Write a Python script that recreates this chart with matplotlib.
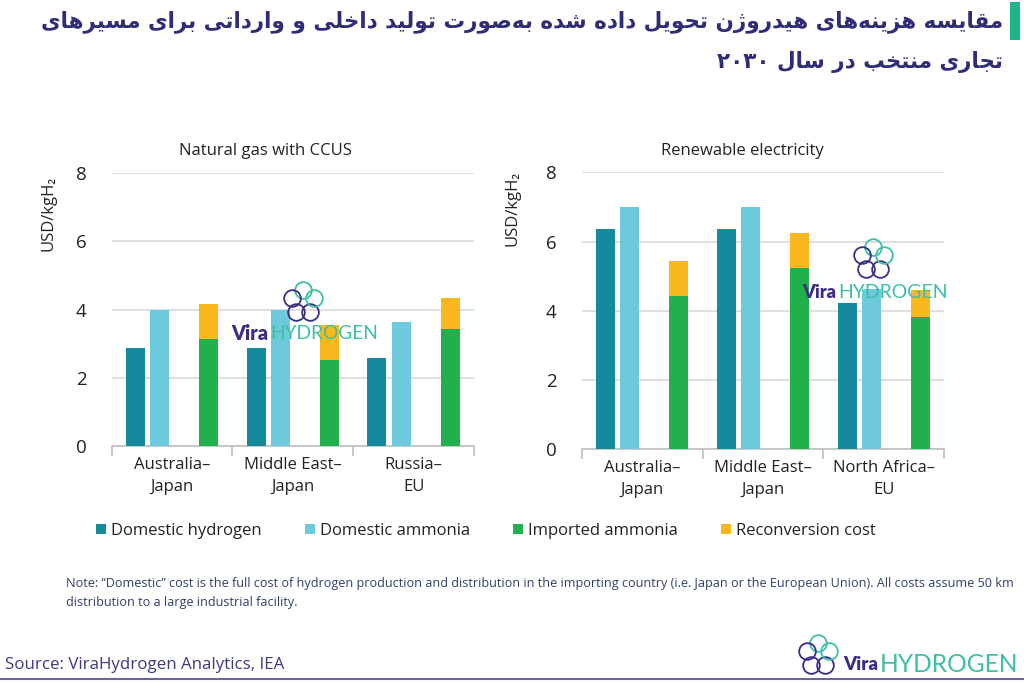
import matplotlib
matplotlib.use("Agg")
import matplotlib.pyplot as plt
from matplotlib.patches import Patch, Rectangle
from matplotlib.lines import Line2D
import numpy as np

# ------------------------------------------------------------------
# data (USD/kgH2)
# ------------------------------------------------------------------
routes_gas = ["Australia–\nJapan", "Middle East–\nJapan", "Russia–\nEU"]
routes_ren = ["Australia–\nJapan", "Middle East–\nJapan", "North Africa–\nEU"]

gas_dom_h2 = [2.87, 2.87, 2.59]
gas_dom_nh3 = [4.00, 4.00, 3.65]
gas_imp_nh3 = [3.14, 2.52, 3.42]
gas_reconv = [1.04, 1.03, 0.93]

ren_dom_h2 = [6.36, 6.36, 4.23]
ren_dom_nh3 = [7.00, 7.00, 4.63]
ren_imp_nh3 = [4.43, 5.23, 3.81]
ren_reconv = [1.02, 1.01, 0.80]

series_names = ["Domestic hydrogen", "Domestic ammonia", "Imported ammonia", "Reconversion cost"]
panel_titles = ["Natural gas with CCUS", "Renewable electricity"]

title_lines = [
    "مقایسه هزینه\u200cهای هیدروژن تحویل داده شده به\u200cصورت تولید داخلی و وارداتی برای مسیرهای",
    "تجاری منتخب در سال ۲۰۳۰",
]
note_text = ("Note: “Domestic” cost is the full cost of hydrogen production and distribution in the "
             "importing country (i.e. Japan or the European Union). All costs assume 50 km\n"
             "distribution to a large industrial facility.")
source_text = "Source: ViraHydrogen Analytics, IEA"

# colours
C_DH = "#148a9c"
C_DA = "#6ccadc"
C_IA = "#21b04b"
C_RC = "#fbb81e"
NAVY = "#2f2c78"
PURPLE = "#3a2d86"
TEAL = "#3cbfa4"

# ------------------------------------------------------------------
# tiny Persian shaper (matplotlib has no shaping / bidi)
# ------------------------------------------------------------------
FORMS = {
    "\u0627": ("\uFE8D", "\uFE8E", None, None),
    "\u0622": ("\uFE81", "\uFE82", None, None),
    "\u0628": ("\uFE8F", "\uFE90", "\uFE91", "\uFE92"),
    "\u067E": ("\uFB56", "\uFB57", "\uFB58", "\uFB59"),
    "\u062A": ("\uFE95", "\uFE96", "\uFE97", "\uFE98"),
    "\u062B": ("\uFE99", "\uFE9A", "\uFE9B", "\uFE9C"),
    "\u062C": ("\uFE9D", "\uFE9E", "\uFE9F", "\uFEA0"),
    "\u0686": ("\uFB7A", "\uFB7B", "\uFB7C", "\uFB7D"),
    "\u062D": ("\uFEA1", "\uFEA2", "\uFEA3", "\uFEA4"),
    "\u062E": ("\uFEA5", "\uFEA6", "\uFEA7", "\uFEA8"),
    "\u062F": ("\uFEA9", "\uFEAA", None, None),
    "\u0630": ("\uFEAB", "\uFEAC", None, None),
    "\u0631": ("\uFEAD", "\uFEAE", None, None),
    "\u0632": ("\uFEAF", "\uFEB0", None, None),
    "\u0698": ("\uFB8A", "\uFB8B", None, None),
    "\u0633": ("\uFEB1", "\uFEB2", "\uFEB3", "\uFEB4"),
    "\u0634": ("\uFEB5", "\uFEB6", "\uFEB7", "\uFEB8"),
    "\u0635": ("\uFEB9", "\uFEBA", "\uFEBB", "\uFEBC"),
    "\u0636": ("\uFEBD", "\uFEBE", "\uFEBF", "\uFEC0"),
    "\u0637": ("\uFEC1", "\uFEC2", "\uFEC3", "\uFEC4"),
    "\u0638": ("\uFEC5", "\uFEC6", "\uFEC7", "\uFEC8"),
    "\u0639": ("\uFEC9", "\uFECA", "\uFECB", "\uFECC"),
    "\u063A": ("\uFECD", "\uFECE", "\uFECF", "\uFED0"),
    "\u0641": ("\uFED1", "\uFED2", "\uFED3", "\uFED4"),
    "\u0642": ("\uFED5", "\uFED6", "\uFED7", "\uFED8"),
    "\u06A9": ("\uFB8E", "\uFB8F", "\uFB90", "\uFB91"),
    "\u06AF": ("\uFB92", "\uFB93", "\uFB94", "\uFB95"),
    "\u0644": ("\uFEDD", "\uFEDE", "\uFEDF", "\uFEE0"),
    "\u0645": ("\uFEE1", "\uFEE2", "\uFEE3", "\uFEE4"),
    "\u0646": ("\uFEE5", "\uFEE6", "\uFEE7", "\uFEE8"),
    "\u0648": ("\uFEED", "\uFEEE", None, None),
    "\u0647": ("\uFEE9", "\uFEEA", "\uFEEB", "\uFEEC"),
    "\u06CC": ("\uFBFC", "\uFBFD", "\uFBFE", "\uFBFF"),
}


def shape_word(w):
    out = []
    for i, c in enumerate(w):
        if c not in FORMS:
            if c != "\u200c":
                out.append(c)
            continue
        prev = w[i - 1] if i > 0 else None
        nxt = w[i + 1] if i + 1 < len(w) else None
        iso, fin, ini, med = FORMS[c]
        jp = prev in FORMS and FORMS[prev][2] is not None
        jn = nxt in FORMS and ini is not None
        if jp and jn:
            out.append(med)
        elif jp:
            out.append(fin)
        elif jn:
            out.append(ini)
        else:
            out.append(iso)
    return out


def rtl(line):
    words = []
    for w in line.split(" "):
        if all("\u06F0" <= c <= "\u06F9" for c in w):
            words.append(w)
        else:
            words.append("".join(reversed(shape_word(w))))
    return " ".join(reversed(words))


# ------------------------------------------------------------------
# figure
# ------------------------------------------------------------------
plt.rcParams["font.family"] = ["Open Sans", "DejaVu Sans"]
W, H = 1024, 683
fig = plt.figure(figsize=(W / 100, H / 100), dpi=100)


def fx(x):
    return x / W


def fy(y):
    return 1 - y / H


def fit_width(t, target):
    # shrink / grow a text so it spans `target` pixels
    fig.canvas.draw()
    w = t.get_window_extent().width
    t.set_fontsize(t.get_fontsize() * target / w)


panels = [
    (routes_gas, gas_dom_h2, gas_dom_nh3, gas_imp_nh3, gas_reconv, [111.7, 173.3, 474.0, 446.0], 265, 48, 213),
    (routes_ren, ren_dom_h2, ren_dom_nh3, ren_imp_nh3, ren_reconv, [581.7, 172.3, 944.3, 449.3], 742, 513, 208),
]

pitch = 0.2025
bw = 0.157
for k, (routes, dh, da, ia, rc, box, tx, ylx, yly) in enumerate(panels):
    x0, y0, x1, y1 = box
    ax = fig.add_axes([fx(x0), fy(y1), (x1 - x0) / W, (y1 - y0) / H])
    x = np.arange(len(routes))
    ax.bar(x - 1.5 * pitch, dh, bw, color=C_DH, zorder=3)
    ax.bar(x - 0.5 * pitch, da, bw, color=C_DA, zorder=3)
    ax.bar(x + 1.5 * pitch, ia, bw, color=C_IA, zorder=3)
    ax.bar(x + 1.5 * pitch, rc, bw, bottom=ia, color=C_RC, zorder=3)
    ax.set_xlim(-0.5, 2.5)
    ax.set_ylim(0, 8)
    ax.set_yticks([0, 2, 4, 6, 8])
    ax.yaxis.grid(True, color="#d9d9d9", lw=1.2, zorder=0)
    ax.set_axisbelow(True)
    for s in ["top", "right", "left"]:
        ax.spines[s].set_visible(False)
    ax.spines["bottom"].set_color("#bfbfbf")
    ax.spines["bottom"].set_linewidth(1.2)
    ax.set_xticks(x)
    ax.set_xticklabels(routes, fontsize=12, color="#222222", linespacing=1.45)
    ax.set_xticks([-0.5, 0.5, 1.5, 2.5], minor=True)
    ax.tick_params(axis="x", which="major", length=0, pad=8)
    ax.tick_params(axis="x", which="minor", length=7, color="#bfbfbf", width=1.2)
    ax.tick_params(axis="y", length=0, pad=18, labelsize=13.5, labelcolor="#222222")
    fig.text(fx(tx), fy(151), panel_titles[k], ha="center", va="center", fontsize=12, color="#222222")
    fig.text(fx(ylx), fy(yly), "USD/kgH₂", rotation=90, ha="center", va="center",
             fontsize=12, color="#222222")

# legend
handles = [Patch(facecolor=c, edgecolor="none") for c in [C_DH, C_DA, C_IA, C_RC]]
fig.legend(handles, series_names, loc="center", bbox_to_anchor=(fx(486), fy(531)), ncol=4,
           frameon=False, fontsize=12, handlelength=0.6, handleheight=0.6, handletextpad=0.3,
           columnspacing=2.6, labelcolor="#222222")


# watermark logos: pentagon of chain links + "Vira HYDROGEN"
def logo(cx, cy, tx, ty, vira_w, hyd_w):
    for i in range(5):
        a = np.pi / 2 + i * 2 * np.pi / 5
        col = TEAL if i in (0, 4) else PURPLE
        fig.lines.append(Line2D([fx(cx + 12 * np.cos(a))], [fy(cy - 12 * np.sin(a))],
                                transform=fig.transFigure, marker="o", ms=12, mfc="none",
                                mec=col, mew=1.3, ls="none"))
    t = fig.text(fx(tx), fy(ty), "Vira", fontsize=14, fontweight="heavy", color=PURPLE,
                 ha="left", va="center", family=["Lato", "DejaVu Sans"])
    fit_width(t, vira_w)
    h = fig.text(fx(tx + vira_w + 2), fy(ty), "HYDROGEN", fontsize=14, color=TEAL,
                 ha="left", va="center", family=["Lato", "DejaVu Sans"])
    fit_width(h, hyd_w)


logo(303, 302, 231, 334, 37, 108)
logo(873, 259, 802, 292, 34, 110)
logo(818, 655, 843, 665, 35, 138)

# Persian title, fitted to the width seen in the reference
title_objs = []
for i, line in enumerate(title_lines):
    t = fig.text(fx(1003), fy(22 + 40 * i), rtl(line), ha="right", va="center", fontsize=18,
                 fontweight="bold", color=NAVY, family="DejaVu Sans")
    title_objs.append(t)
fig.canvas.draw()
scale = (1003 - 35) / title_objs[0].get_window_extent().width
for t in title_objs:
    t.set_fontsize(18 * scale)
fig.patches.append(Rectangle((fx(1010), fy(40)), 10 / W, 38 / H, transform=fig.transFigure,
                             color="#1fb38a", lw=0))

# note + source
note = fig.text(fx(66), fy(593), note_text, ha="left", va="center", fontsize=8.6, color="#30406a",
                linespacing=1.55)
fit_width(note, 1003 - 66)
src = fig.text(fx(5), fy(665), source_text, ha="left", va="center", fontsize=12, color="#3a3a7e")
fit_width(src, 283 - 5)
fig.lines.append(Line2D([0, 1], [fy(679), fy(679)], transform=fig.transFigure, color="#6b6699", lw=1.5))

fig.savefig("out.png", dpi=100)
